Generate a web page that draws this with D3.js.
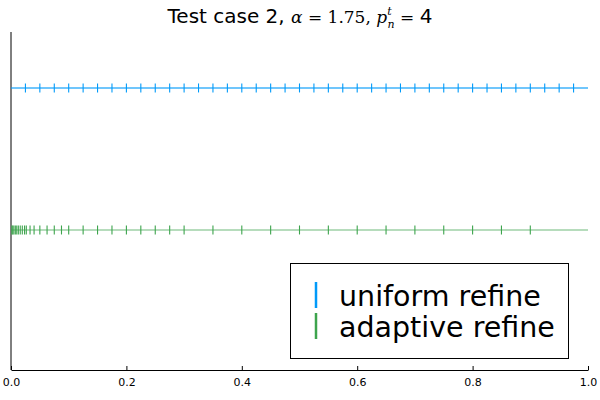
<!DOCTYPE html>
<html>
<head>
<meta charset="utf-8">
<script src="https://cdn.jsdelivr.net/npm/d3@7"></script>
<style>
  body { margin: 0; background: #fff; }
  text { font-family: "DejaVu Sans", sans-serif; }
</style>
</head>
<body>
<svg id="chart" width="600" height="400"></svg>
<script>
// series: node locations (x in [0,1]) for each mesh
const uniformNodes = d3.range(1, 40).map(i => i / 40);
const adaptiveNodes = [
  0.0015, 0.003, 0.005, 0.0075, 0.01, 0.0127, 0.016, 0.0196, 0.0235, 0.0265,
  0.033, 0.040, 0.05, 0.0625, 0.075, 0.0875, 0.1,
  0.125, 0.15, 0.175, 0.2, 0.225, 0.25, 0.275, 0.3,
  0.35, 0.4, 0.45, 0.5, 0.55, 0.6, 0.65, 0.7, 0.75, 0.8, 0.85, 0.9
];
const seriesNames = ["uniform refine", "adaptive refine"];
const seriesLevels = [1, 0];   // vertical position of each mesh line
const seriesColors = ["#009af9", "#3da44d"];
const xTicks = [0, 0.2, 0.4, 0.6, 0.8, 1.0];

const svg = d3.select("#chart");
const margin = {left: 11, right: 12, top: 32, bottom: 30};
const W = 600, H = 400;

const x = d3.scaleLinear().domain([0, 1]).range([margin.left, W - margin.right]);
const y = d3.scaleLinear().domain([-0.986, 1.394]).range([H - margin.bottom, margin.top]);

// title
const serif = "'DejaVu Serif', serif";
const title = svg.append("text")
  .attr("x", 300).attr("y", 23)
  .attr("text-anchor", "middle")
  .style("font-size", "20px");
title.append("tspan").text("Test case 2, ");
title.append("tspan").style("font-family", serif).style("font-style", "italic").style("font-size", "17px").text("α");
title.append("tspan").style("font-family", serif).style("font-size", "17px").text(" = 1.75, ");
title.append("tspan").style("font-family", serif).style("font-style", "italic").style("font-size", "17px").text("p");
title.append("tspan").style("font-family", serif).style("font-style", "italic")
  .style("font-size", "11px").attr("dy", -8).text("t");
title.append("tspan").style("font-family", serif).style("font-style", "italic")
  .style("font-size", "11px").attr("dx", -4).attr("dy", 13).text("n");
title.append("tspan").style("font-family", serif).style("font-size", "17px").attr("dy", -5).text(" = ");
title.append("tspan").text("4");

// axes
const xAxis = d3.axisBottom(x).tickValues(xTicks).tickFormat(d3.format(".1f"))
  .tickSizeInner(-4).tickSizeOuter(0).tickPadding(8);
const gx = svg.append("g").attr("transform", `translate(0,${H - margin.bottom})`).call(xAxis);
gx.select(".domain").attr("stroke", "#000").attr("stroke-width", 1);
gx.selectAll(".tick line").attr("stroke", "#000");
gx.selectAll(".tick text").style("font-size", "11px").attr("fill", "#000");

svg.append("line")
  .attr("x1", margin.left).attr("x2", margin.left)
  .attr("y1", margin.top).attr("y2", H - margin.bottom)
  .attr("stroke", "#000").attr("stroke-width", 1);

// mesh lines
const allNodes = [uniformNodes, adaptiveNodes];
allNodes.forEach((nodes, i) => {
  const g = svg.append("g");
  const yy = y(seriesLevels[i]);
  g.append("line")
    .attr("x1", x(0)).attr("x2", x(1))
    .attr("y1", yy).attr("y2", yy)
    .attr("stroke", seriesColors[i]).attr("stroke-opacity", i === 0 ? 0.75 : 0.5)
    .attr("stroke-width", 1.6);
  g.selectAll("line.node").data(nodes).join("line")
    .attr("class", "node")
    .attr("x1", d => x(d)).attr("x2", d => x(d))
    .attr("y1", yy - 4.5).attr("y2", yy + 4.5)
    .attr("stroke", seriesColors[i]).attr("stroke-width", 1.1);
});

// legend
const lg = svg.append("g");
lg.append("rect")
  .attr("x", 290.5).attr("y", 263.5).attr("width", 278).attr("height", 95)
  .attr("fill", "#fff").attr("stroke", "#000").attr("stroke-width", 1);
seriesNames.forEach((name, i) => {
  const cy = 295 + i * 31;
  lg.append("line")
    .attr("x1", 316).attr("x2", 316)
    .attr("y1", cy - 13).attr("y2", cy + 13)
    .attr("stroke", seriesColors[i]).attr("stroke-width", 2.5);
  lg.append("text")
    .attr("x", 339).attr("y", cy + 11)
    .style("font-size", "28.5px")
    .text(name);
});
</script>
</body>
</html>
